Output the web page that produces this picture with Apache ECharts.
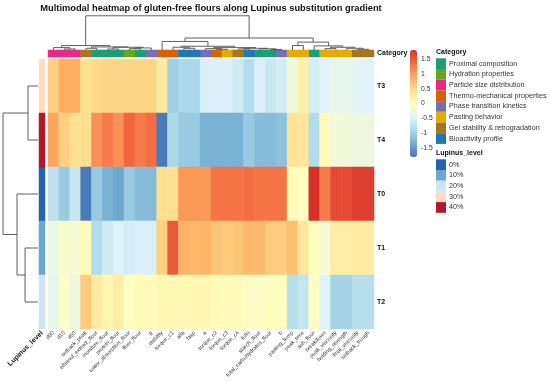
<!DOCTYPE html>
<html><head><meta charset="utf-8">
<script src="https://cdn.jsdelivr.net/npm/echarts@6/dist/echarts.min.js"></script>
<style>html,body{margin:0;padding:0;background:#fff}#c{width:550px;height:382px}</style>
</head><body><div id="c"></div><script>
// ---------- DATA ----------
const columns = ['d90','d10','d50','setback_peak','ethanol_extract_flour','moisture_flour','protein_flour','water_absorption_flour','fiber_flour','g','stability','torque_c1','alfa','fasp','a','torque_c2','torque_c3','torque_c4','folin','starch_flour','total_carbohydrates_flour','b','pasting_temp','peak_time','ash_flour','breakdown','peak_viscosity','holding_strength','final_viscosity','setback_trough'];
const columnCategory = ['Particle size distribution','Particle size distribution','Particle size distribution','Gel stability & retrogradation','Proximal composition','Proximal composition','Proximal composition','Hydration properties','Proximal composition','Phase transition kinetics','Thermo-mechanical properties','Thermo-mechanical properties','Bioactivity profile','Bioactivity profile','Phase transition kinetics','Thermo-mechanical properties','Pasting behavior','Gel stability & retrogradation','Bioactivity profile','Proximal composition','Proximal composition','Phase transition kinetics','Pasting behavior','Pasting behavior','Proximal composition','Pasting behavior','Pasting behavior','Pasting behavior','Gel stability & retrogradation','Gel stability & retrogradation'];
const rows = ['T3','T4','T0','T1','T2'];
const rowLevel = ['30%','40%','0%','10%','20%'];
const valuesT3 = [0.6,0.9,0.9,0.45,0.5,0.55,0.55,0.55,0.55,0.55,0.3,-1.0,-0.9,-0.9,-0.5,-0.5,-0.5,-0.6,-0.85,-0.5,-0.65,-0.55,-0.2,0.2,-0.55,-0.45,-0.35,-0.35,-0.4,-0.45];
const valuesT4 = [0.95,0.6,0.45,0.45,1.1,1.25,1.1,1.4,1.25,1.35,-1.75,-0.9,-1.05,-1.05,-1.3,-1.3,-1.3,-1.3,-1.05,-1.2,-1.2,-1.15,0.4,0.35,-0.85,0.05,-0.2,-0.2,-0.25,-0.25];
const valuesT0 = [-0.75,-1.05,-0.65,-1.75,-1.05,-1.3,-1.4,-1.05,-1.2,-1.2,0.45,0.45,1.05,1.05,1.05,1.3,1.3,1.3,1.35,1.3,1.3,1.3,0.05,-0.02,1.8,1.25,1.6,1.6,1.7,1.7];
const valuesT1 = [-0.3,-0.1,-0.15,0.05,-0.85,-0.6,-0.45,-0.55,-0.5,-0.5,0.6,1.5,0.85,0.8,0.85,0.7,0.65,0.7,0.8,0.8,0.65,0.6,0.75,0.35,0.02,-0.15,0.25,0.25,0.28,0.28];
const valuesT2 = [-0.35,-0.05,-0.25,0.65,0.3,0.15,0.25,-0.05,0.05,0.05,0.1,0.1,0.1,0.12,0.12,0.05,0.05,0.05,-0.05,-0.05,0.02,0,-0.8,-0.7,-0.05,-0.45,-0.95,-0.95,-0.8,-0.8];
const categoryNames = ['Proximal composition','Hydration properties','Particle size distribution','Thermo-mechanical properties','Phase transition kinetics','Pasting behavior','Gel stability & retrogradation','Bioactivity profile'];
const levelNames = ['0%','10%','20%','30%','40%'];
const colorTicks = [-1.5,-1,-0.5,0,0.5,1,1.5];
const colorMin = -1.8, colorMax = 1.8;
// dendrograms: [left, right, height]; leaves are column / row indices
const colTree = [
  [[0,[1,2,0.3],0.7],[[3,4,0.5],[[5,6,0.3],[[7,8,0.4],9,0.6],0.8],0.9],1.3],
  [[10,[[11,[12,13,0.5],0.8],[[14,[15,16,0.2],0.4],[[17,18,0.3],[19,[20,21,0.15],0.35],0.5],0.7],1.1],2.5],
   [[22,23,1.3],[24,[[25,26,0.4],[27,[28,29,0.2],0.5],0.8],1.2],2.3],3.5],
  10];
const rowTree = [[0,1,2.86],[2,[3,4,3.7],6],10];

// ---------- STYLE ----------
const FONT = 'Liberation Sans, Arial, sans-serif';
const catColors = {'Proximal composition':'#1B9E77','Hydration properties':'#66A61E','Particle size distribution':'#E7298A','Thermo-mechanical properties':'#D95F02','Phase transition kinetics':'#7570B3','Pasting behavior':'#E6AB02','Gel stability & retrogradation':'#A6761D','Bioactivity profile':'#1F78B4'};
const levelColors = {'0%':'#2166AC','10%':'#67A9CF','20%':'#D1E5F0','30%':'#FDDBC7','40%':'#B2182B'};
const heatColors = ['#4575B4','#74ADD1','#ABD9E9','#E0F3F8','#FFFFBF','#FEE090','#FDAE61','#F46D43','#D73027'];
const rowValues = {T3:valuesT3,T4:valuesT4,T0:valuesT0,T1:valuesT1,T2:valuesT2};

const heatData = [];
rows.forEach((r,ri)=>rowValues[r].forEach((v,ci)=>heatData.push([ci,ri,v])));

function walk(node, segs){
  if (typeof node === 'number') return {p: node + 0.5, h: 0};
  const L = walk(node[0], segs), R = walk(node[1], segs), h = node[2];
  segs.push([L.p, L.h, R.p, R.h, h]);
  return {p: (L.p + R.p)/2, h: h};
}
const colSegs = []; walk(colTree, colSegs);
const rowSegs = []; walk(rowTree, rowSegs);
const lineStyle = {stroke:'#4d4d4d', lineWidth:0.9, fill:null};

const chart = echarts.init(document.getElementById('c'), null, {renderer:'canvas'});
const hidden = {show:false};
const opt = {
  animation:false,
  backgroundColor:'#fff',
  title:[
    {text:'Multimodal heatmap of gluten-free flours along Lupinus substitution gradient', left:211, top:3.5, textAlign:'center', padding:0,
     textStyle:{fontFamily:FONT, fontSize:9.3, fontWeight:'bold', color:'#111'}},
    {text:'Category', left:436, top:49, padding:0, textStyle:{fontFamily:FONT, fontSize:7, fontWeight:'bold', color:'#111'}},
    {text:'Lupinus_level', left:436, top:150, padding:0, textStyle:{fontFamily:FONT, fontSize:7, fontWeight:'bold', color:'#111'}}
  ],
  grid:[
    {left:48, top:59, width:326, height:270},
    {left:48, top:50, width:326, height:7},
    {left:39, top:59, width:6, height:270},
    {left:48, top:15.8, width:326, height:34.2},
    {left:3, top:59, width:35, height:270},
    {left:410, top:50, width:7, height:107}
  ],
  xAxis:[
    {gridIndex:0, type:'category', data:columns, position:'bottom', axisLine:hidden, axisTick:hidden,
     axisLabel:{rotate:45, interval:0, fontSize:5.5, margin:3, color:'#333', fontFamily:FONT}},
    {gridIndex:1, type:'category', data:columns, show:false},
    {gridIndex:2, type:'category', data:['Lupinus_level'], position:'bottom', axisLine:hidden, axisTick:hidden,
     axisLabel:{rotate:45, interval:0, fontSize:7, fontWeight:'bold', margin:3, color:'#111', fontFamily:FONT}},
    {gridIndex:3, type:'value', min:0, max:30, show:false},
    {gridIndex:4, type:'value', min:0, max:10, inverse:true, show:false},
    {gridIndex:5, type:'value', min:0, max:1, show:false}
  ],
  yAxis:[
    {gridIndex:0, type:'category', data:rows, inverse:true, position:'right', axisLine:hidden, axisTick:hidden,
     axisLabel:{fontSize:7, fontWeight:'bold', margin:3, color:'#111', fontFamily:FONT}},
    {gridIndex:1, type:'category', data:['Category'], position:'right', axisLine:hidden, axisTick:hidden,
     axisLabel:{fontSize:7, fontWeight:'bold', margin:3, color:'#111', fontFamily:FONT}},
    {gridIndex:2, type:'category', data:rows, inverse:true, show:false},
    {gridIndex:3, type:'value', min:0, max:10, show:false},
    {gridIndex:4, type:'value', min:0, max:5, inverse:true, show:false},
    {gridIndex:5, type:'value', min:colorMin, max:colorMax, position:'right', axisLine:hidden, axisTick:hidden, splitLine:hidden,
     axisLabel:{customValues:colorTicks, fontSize:6.8, margin:4, color:'#333', fontFamily:FONT}}
  ],
  visualMap:{type:'continuous', seriesIndex:0, dimension:2, min:colorMin, max:colorMax, left:410, top:50,
    itemWidth:7, itemHeight:107, padding:0, calculable:false, hoverLink:false, inRange:{color:heatColors}},
  legend:[
    {data:categoryNames, left:436, top:58.3, orient:'vertical', icon:'rect', itemWidth:10, itemHeight:10.7, itemGap:0,
     selectedMode:false, padding:0, textStyle:{fontSize:7.2, color:'#333', fontFamily:FONT, padding:[0,0,0,-2]}},
    {data:levelNames, left:436, top:159.3, orient:'vertical', icon:'rect', itemWidth:10, itemHeight:10.7, itemGap:0,
     selectedMode:false, padding:0, textStyle:{fontSize:7.2, color:'#333', fontFamily:FONT, padding:[0,0,0,-2]}}
  ],
  series:[
    {type:'heatmap', name:'z', xAxisIndex:0, yAxisIndex:0, data:heatData, itemStyle:{borderWidth:0}, emphasis:{disabled:true}},
    ...categoryNames.map(n=>({type:'heatmap', name:n, xAxisIndex:1, yAxisIndex:1,
      data:columns.map((c,i)=>columnCategory[i]===n?[i,0,1]:null).filter(Boolean), itemStyle:{color:catColors[n]}, emphasis:{disabled:true}})),
    ...levelNames.map(n=>({type:'heatmap', name:n, xAxisIndex:2, yAxisIndex:2,
      data:rows.map((r,i)=>rowLevel[i]===n?[0,i,1]:null).filter(Boolean), itemStyle:{color:levelColors[n]}, emphasis:{disabled:true}})),
    {type:'custom', xAxisIndex:3, yAxisIndex:3, clip:false, data:colSegs, silent:true,
      renderItem:(p,api)=>({type:'polyline', shape:{points:[
        api.coord([api.value(0),api.value(1)]), api.coord([api.value(0),api.value(4)]),
        api.coord([api.value(2),api.value(4)]), api.coord([api.value(2),api.value(3)])]}, style:lineStyle})},
    {type:'custom', xAxisIndex:4, yAxisIndex:4, clip:false, data:rowSegs, silent:true,
      renderItem:(p,api)=>({type:'polyline', shape:{points:[
        api.coord([api.value(1),api.value(0)]), api.coord([api.value(4),api.value(0)]),
        api.coord([api.value(4),api.value(2)]), api.coord([api.value(3),api.value(2)])]}, style:lineStyle})}
  ]
};
chart.setOption(opt);
</script></body></html>
